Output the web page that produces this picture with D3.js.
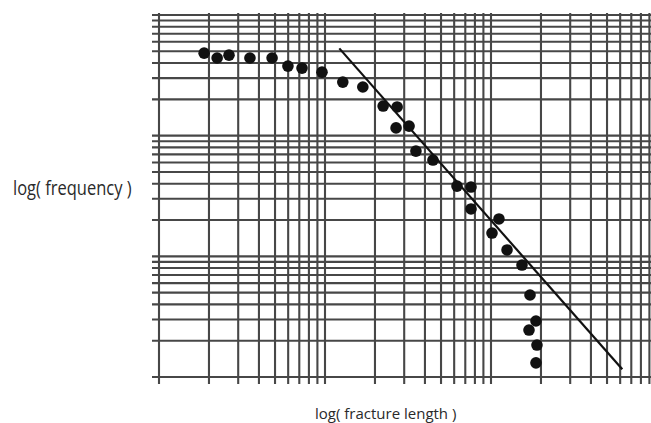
<!DOCTYPE html>
<html>
<head>
<meta charset="utf-8">
<script src="https://cdn.jsdelivr.net/npm/d3@7"></script>
<style>
  html, body { margin: 0; padding: 0; background: #fff; }
  svg { display: block; }
  .label { font-family: "Open Sans", "Noto Sans", sans-serif; fill: #2a2a2a; }
</style>
</head>
<body>
<svg id="chart" width="651" height="423"></svg>
<script>
// Fracture length vs. frequency, both on log scales
const lengths = [1.87, 2.24, 2.64, 3.53, 4.80, 5.98, 7.27, 9.59, 12.8, 16.9,
                 22.4, 27.2, 26.8, 32.1, 35.3, 44.7, 62.4, 75.8, 75.8, 111.7,
                 101.4, 124.9, 153.7, 171.8, 186.6, 169.4, 189.2, 186.6];
const frequencies = [483, 440, 465, 440, 440, 377, 363, 336, 278, 253,
                     176, 173, 116, 120, 74.5, 62.8, 38.2, 37.5, 24.7, 20.4,
                     15.6, 11.3, 8.47, 4.78, 2.91, 2.45, 1.84, 1.31];

// Power-law fit drawn through the straight part of the distribution
const fitLength = [12.2, 618];
const fitFreq = [529, 1.16];

const xLabel = "log( fracture length )";
const yLabel = "log( frequency )";

const W = 651, H = 423;
const plotLeft = 159, plotRight = 657, plotTop = 15, plotBottom = 377;

const x = d3.scaleLog().domain([1, 1000]).range([plotLeft, plotRight]);
const y = d3.scaleLog().domain([1, 1000]).range([plotBottom, plotTop]);

const svg = d3.select("#chart");
const gridColor = "#474747";

// vertical grid lines (one per 1..9 x 10^k), extending below the frame as ticks
const xTicks = x.ticks().filter(v => x(v) <= W);
svg.append("g").selectAll("line")
  .data(xTicks)
  .join("line")
  .attr("x1", d => x(d)).attr("x2", d => x(d))
  .attr("y1", plotTop - 2).attr("y2", plotBottom + 7)
  .attr("stroke", gridColor).attr("stroke-width", 2.1);

// horizontal grid lines, extending left of the frame as ticks
const yTicks = y.ticks();
svg.append("g").selectAll("line")
  .data(yTicks)
  .join("line")
  .attr("x1", plotLeft - 7).attr("x2", W)
  .attr("y1", d => y(d)).attr("y2", d => y(d))
  .attr("stroke", gridColor).attr("stroke-width", 2.1);

// fitted line
svg.append("line")
  .attr("x1", x(fitLength[0])).attr("y1", y(fitFreq[0]))
  .attr("x2", x(fitLength[1])).attr("y2", y(fitFreq[1]))
  .attr("stroke", "#111").attr("stroke-width", 2.2);

// observations
svg.append("g").selectAll("circle")
  .data(lengths.map((l, i) => [l, frequencies[i]]))
  .join("circle")
  .attr("cx", d => x(d[0])).attr("cy", d => y(d[1]))
  .attr("r", 5.8)
  .attr("fill", "#111");

// axis titles (the vertical one is drawn slightly stretched in height)
svg.append("text").attr("class", "label")
  .attr("transform", "translate(13,195) scale(1,1.25)")
  .attr("font-size", 16.5)
  .text(yLabel);

svg.append("text").attr("class", "label")
  .attr("x", 315).attr("y", 419)
  .attr("font-size", 15)
  .text(xLabel);
</script>
</body>
</html>
